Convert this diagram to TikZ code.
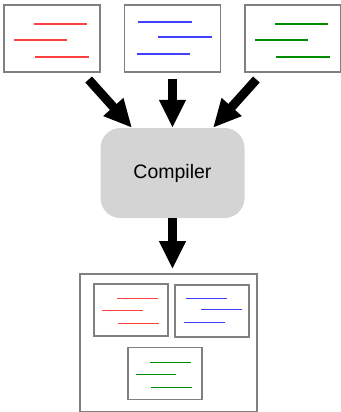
\documentclass[tikz,border=0pt]{standalone}
\usepackage{tikz}
\usetikzlibrary{arrows.meta, positioning}
\usepackage{fontspec}
\newfontfamily\labelfont{Liberation Sans}
\definecolor{frame}{RGB}{128,128,128}
\definecolor{cmpfill}{RGB}{212,212,212}

\begin{document}
\begin{tikzpicture}[
      x=1pt, y=-1pt,
      src/.style={rectangle, draw=frame, line width=1.6pt, fill=white,
                  minimum width=96pt, minimum height=67pt, inner sep=0pt},
      part/.style={rectangle, draw=frame, line width=1.3pt, fill=white,
                    minimum width=74pt, minimum height=52pt, inner sep=0pt},
      cmpbox/.style={rectangle, rounded corners=20pt, fill=cmpfill,
                     minimum width=144pt, minimum height=90pt,
                     font=\labelfont\fontsize{19.5}{22}\selectfont},
      bigarr/.style={-{Triangle[length=28pt, width=25pt]}, line width=9pt, draw=black},
      txt/.style={line width=1.1pt}
    ]
    \useasboundingbox (0,0) rectangle (340,412);

    % source files
    \node[src] (s2) at (172.5,38.5) {};
    \node[src, left=23pt of s2] (s1) {};
    \node[src, right=23pt of s2] (s3) {};

    % compiler and the linked output
    \node[cmpbox, below=55pt of s2] (cmp) {Compiler};
    \node[src, line width=1.8pt, minimum width=177pt, minimum height=138pt,
          below=55pt of cmp, xshift=-4pt] (out) {};
    \node[part] (o1) at (131,310) {};
    \node[part] (o2) at (212,311) {};
    \node[part] (o3) at (165,373.5) {};

    % code lines in the sources
    \begin{scope}[shift={(s1.center)}, txt, color=red!75]
      \foreach \a/\b/\h in {-18/35/-14.5, -38/15/1.5, -17/37/18.5}
        \draw (\a,\h) -- (\b,\h);
    \end{scope}
    \begin{scope}[shift={(s2.center)}, txt, color=blue!75]
      \foreach \a/\b/\h in {-34.5/19.5/-16.5, -14.5/39.5/-1.5, -35.5/17.5/15.5}
        \draw (\a,\h) -- (\b,\h);
    \end{scope}
    \begin{scope}[shift={(s3.center)}, txt, color=green!55!black]
      \foreach \a/\b/\h in {-18/35/-14.5, -38/15/1.5, -17/37/18.5}
        \draw (\a,\h) -- (\b,\h);
    \end{scope}

    % same lines, smaller, inside the output
    \begin{scope}[shift={(o1.center)}, line width=0.9pt, color=red!75]
      \foreach \a/\b/\h in {-14/27/-12, -29/12/0, -13/28/13}
        \draw (\a,\h) -- (\b,\h);
    \end{scope}
    \begin{scope}[shift={(o2.center)}, line width=0.9pt, color=blue!75]
      \foreach \a/\b/\h in {-26/15/-13, -11/30/-2, -28/13/11}
        \draw (\a,\h) -- (\b,\h);
    \end{scope}
    \begin{scope}[shift={(o3.center)}, line width=0.9pt, color=green!55!black]
      \foreach \a/\b/\h in {-15/26/-11.5, -29/11/0.5, -14/27/13.5}
        \draw (\a,\h) -- (\b,\h);
    \end{scope}

    \draw[bigarr, shorten <=9pt] (s1) -- (cmp);
    \draw[bigarr, shorten <=6pt] (s2) -- (cmp);
    \draw[bigarr, shorten <=9pt] (s3) -- (cmp);
    \draw[bigarr, shorten >=4pt] (cmp) -- (cmp |- out.north);
  \end{tikzpicture}
\end{document}
